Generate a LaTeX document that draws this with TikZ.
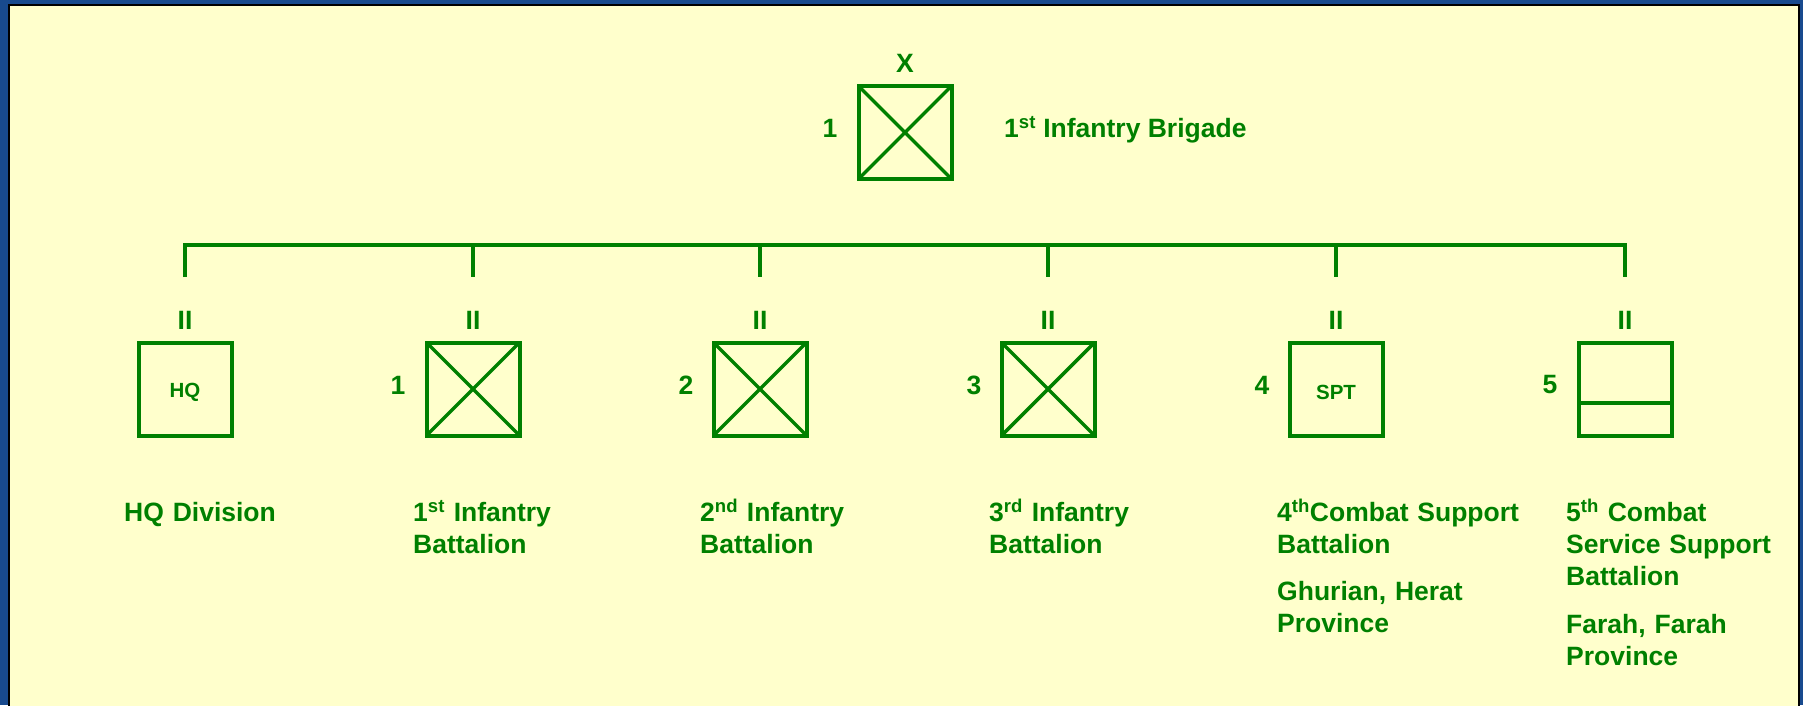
\documentclass[tikz,border=0pt]{standalone}
\usepackage{fontspec}
\setmainfont{Liberation Sans}
\usetikzlibrary{calc}
\definecolor{armygreen}{RGB}{0,128,0}
\definecolor{panelyellow}{RGB}{255,255,204}
\definecolor{bgblue}{RGB}{24,74,142}
\begin{document}
\begin{tikzpicture}[x=1pt,y=-1pt,
  unitbox/.style={draw=armygreen, line width=4pt, minimum width=93pt, minimum height=93pt, inner sep=0pt, outer sep=0pt},
  echelon/.style={text=armygreen, font=\fontsize{26.5}{32}\selectfont\bfseries, inner sep=0pt},
  boxtext/.style={text=armygreen, font=\fontsize{20.5}{24}\selectfont\bfseries, inner sep=0pt},
  unitlabel/.style={text=armygreen, font=\fontsize{26.5}{32}\selectfont\bfseries, inner sep=0pt, anchor=base west, text width=300pt, align=left},
  link/.style={draw=armygreen, line width=3.5pt},
  cross/.style={draw=armygreen, line width=3.5pt}]
\useasboundingbox (0,0) rectangle (1803,705);
\fill[bgblue] (0,0) rectangle (1803,705);
\filldraw[fill=panelyellow, draw=black, line width=2.5pt] (9,5) rectangle (1799,720);

% Brigade
\node[unitbox] (bde) at (905,132.5) {};
\draw[cross] (bde.north west) -- (bde.south east) (bde.north east) -- (bde.south west);
\node[echelon] (bdeX) at (905,63) {X};
\node[echelon] (bdeN) at (830,128) {1};
\node[echelon, anchor=base west] (bdeName) at (1004,137.5) {1\textsuperscript{st} Infantry Brigade};

% bar coordinates
\coordinate (t0) at (185,245);  \coordinate (b0) at (185,277);
\coordinate (t1) at (473,245);  \coordinate (b1) at (473,277);
\coordinate (t2) at (760,245);  \coordinate (b2) at (760,277);
\coordinate (t3) at (1048,245); \coordinate (b3) at (1048,277);
\coordinate (t4) at (1336,245); \coordinate (b4) at (1336,277);
\coordinate (t5) at (1625,245); \coordinate (b5) at (1625,277);
\draw[link] (b0) -- (t0) -- (t5) -- (b5);
\draw[link] (t1) -- (b1);
\draw[link] (t2) -- (b2);
\draw[link] (t3) -- (b3);
\draw[link] (t4) -- (b4);

% HQ
\node[echelon] (e0) at (185,320) {II};
\node[unitbox] (u0) at (185,389) {};
\node[boxtext] (u0t) at (185,392) {HQ};
\node[unitlabel] (l0) at (124,521.5) {HQ Division};

% 1st Inf
\node[echelon] (e1) at (473,320) {II};
\node[unitbox] (u1) at (473,389) {};
\draw[cross] (u1.north west) -- (u1.south east) (u1.north east) -- (u1.south west);
\node[echelon] (n1) at (398,385) {1};
\node[unitlabel] (l1) at (413,521.5) {1\textsuperscript{st} Infantry\\Battalion};

% 2nd Inf
\node[echelon] (e2) at (760,320) {II};
\node[unitbox] (u2) at (760,389) {};
\draw[cross] (u2.north west) -- (u2.south east) (u2.north east) -- (u2.south west);
\node[echelon] (n2) at (686,385) {2};
\node[unitlabel] (l2) at (700,521.5) {2\textsuperscript{nd} Infantry\\Battalion};

% 3rd Inf
\node[echelon] (e3) at (1048,320) {II};
\node[unitbox] (u3) at (1048,389) {};
\draw[cross] (u3.north west) -- (u3.south east) (u3.north east) -- (u3.south west);
\node[echelon] (n3) at (974,385) {3};
\node[unitlabel] (l3) at (989,521.5) {3\textsuperscript{rd} Infantry\\Battalion};

% 4th CS
\node[echelon] (e4) at (1336,320) {II};
\node[unitbox] (u4) at (1336,389) {};
\node[boxtext] (u4t) at (1336,392) {SPT};
\node[echelon] (n4) at (1262,385) {4};
\node[unitlabel] (l4) at (1277,521.5) {4\textsuperscript{th}Combat Support\\Battalion\\[15pt]Ghurian, Herat\\Province};

% 5th CSS
\node[echelon] (e5) at (1625,320) {II};
\node[unitbox] (u5) at (1625,389) {};
\draw[cross] ($(u5.north west)!0.65!(u5.south west)$) -- ($(u5.north east)!0.65!(u5.south east)$);
\node[echelon] (n5) at (1550,385) {5};
\node[unitlabel] (l5) at (1566,521.5) {5\textsuperscript{th} Combat\\Service Support\\Battalion\\[16pt]Farah, Farah\\Province};
\end{tikzpicture}
\end{document}
